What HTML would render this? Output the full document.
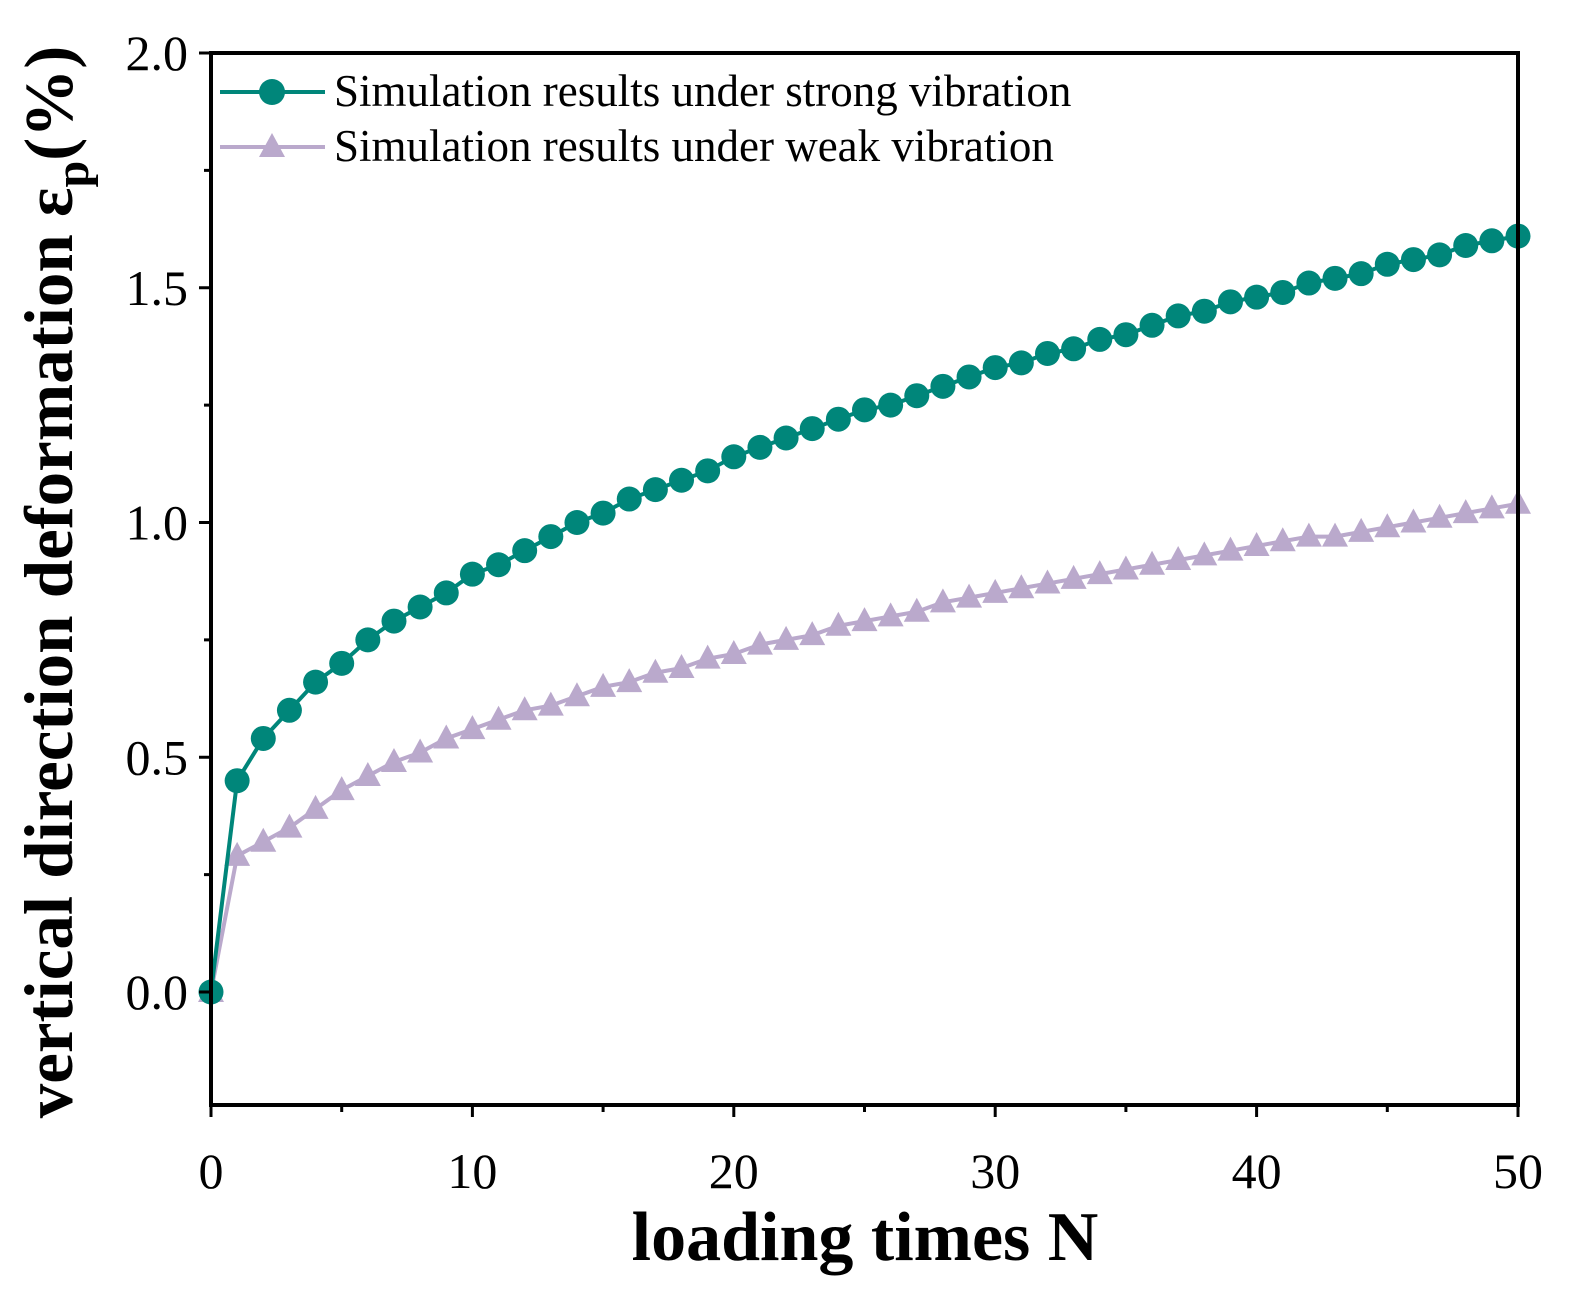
<!DOCTYPE html>
<html><head><meta charset="utf-8"><style>
html,body{margin:0;padding:0;background:#fff;}
svg text{font-family:"Liberation Serif",serif;}
</style></head><body>
<svg id="chart" width="1582" height="1306" xmlns="http://www.w3.org/2000/svg">
<g id="marks"></g>
<rect x="211" y="53" width="1307" height="1052" fill="none" stroke="#000" stroke-width="4"/>
<g id="axes"></g>
<text x="865" y="1260" font-size="70" font-weight="bold" text-anchor="middle">loading times N</text>
<text transform="translate(72,582) rotate(-90)" font-size="69" font-weight="bold" text-anchor="middle">vertical direction deformation ε<tspan font-size="48" dy="16">p</tspan><tspan dy="-16">(%)</tspan></text>
<g>
<line x1="220" y1="92" x2="325" y2="92" stroke="#00867a" stroke-width="4"/>
<circle cx="272" cy="92" r="13" fill="#00867a"/>
<text x="334" y="106" font-size="45">Simulation results under strong vibration</text>
<line x1="220" y1="147" x2="325" y2="147" stroke="#baa9cc" stroke-width="4"/>
<polygon points="272,133 259,157 285,157" fill="#baa9cc"/>
<text x="334" y="161" font-size="45">Simulation results under weak vibration</text>
</g>
</svg>
<script>
const loadingN = Array.from({length:51},(_,i)=>i);
const strongValues = [0,0.45,0.54,0.60,0.66,0.70,0.75,0.79,0.82,0.85,0.89,0.91,0.94,0.97,1.00,1.02,1.05,1.07,1.09,1.11,1.14,1.16,1.18,1.20,1.22,1.24,1.25,1.27,1.29,1.31,1.33,1.34,1.36,1.37,1.39,1.40,1.42,1.44,1.45,1.47,1.48,1.49,1.51,1.52,1.53,1.55,1.56,1.57,1.59,1.60,1.61];
const weakValues = [0,0.29,0.32,0.35,0.39,0.43,0.46,0.49,0.51,0.54,0.56,0.58,0.60,0.61,0.63,0.65,0.66,0.68,0.69,0.71,0.72,0.74,0.75,0.76,0.78,0.79,0.80,0.81,0.83,0.84,0.85,0.86,0.87,0.88,0.89,0.90,0.91,0.92,0.93,0.94,0.95,0.96,0.97,0.97,0.98,0.99,1.00,1.01,1.02,1.03,1.04];
const xTicks = [0,10,20,30,40,50];
const yTicks = [0.0,0.5,1.0,1.5,2.0];
const yTickLabels = ["0.0","0.5","1.0","1.5","2.0"];

const NS="http://www.w3.org/2000/svg";
const xs = v => 211 + v*(1307/50);
const ys = v => 992 - v*469.5;
function mk(tag, attrs, parent){const e=document.createElementNS(NS,tag);for(const k in attrs)e.setAttribute(k,attrs[k]);parent.appendChild(e);return e;}
const axes=document.getElementById('axes'), marks=document.getElementById('marks');
for(let v=0;v<=50;v+=5){
  const major = v%10===0;
  const t=mk('line',{x1:xs(v),x2:xs(v),y1:1105,y2:major?1117:1112,stroke:'#000','stroke-width':3},axes);
  
  
}
xTicks.forEach(v=>{
  const t=mk('text',{x:xs(v),y:1188,'font-size':50,'text-anchor':'middle'},axes);
  t.textContent=v;
  
  
});
for(let v=0;v<=2.0001;v+=0.25){
  const major = Math.abs(v*2-Math.round(v*2))<1e-6;
  const t=mk('line',{x1:211,x2:major?199:204,y1:ys(v),y2:ys(v),stroke:'#000','stroke-width':3},axes);
  
  
}
yTicks.forEach((v,i)=>{
  const t=mk('text',{x:188,y:ys(v)+17,'font-size':50,'text-anchor':'end'},axes);
  t.textContent=yTickLabels[i];
  
  
});
const wp=loadingN.map((n,i)=>xs(n)+','+ys(weakValues[i])).join(' ');
const wl=mk('polyline',{points:wp,fill:'none',stroke:'#baa9cc','stroke-width':4},marks);


loadingN.forEach((n,i)=>{
  const x=xs(n),y=ys(weakValues[i]);
  const p=mk('polygon',{points:`${x},${y-14} ${x-13},${y+10} ${x+13},${y+10}`,fill:'#baa9cc'},marks);
  
  
});
const sp=loadingN.map((n,i)=>xs(n)+','+ys(strongValues[i])).join(' ');
const sl=mk('polyline',{points:sp,fill:'none',stroke:'#00867a','stroke-width':4},marks);


loadingN.forEach((n,i)=>{
  const c=mk('circle',{cx:xs(n),cy:ys(strongValues[i]),r:12.5,fill:'#00867a'},marks);
  
  
});
</script>
</body></html>
